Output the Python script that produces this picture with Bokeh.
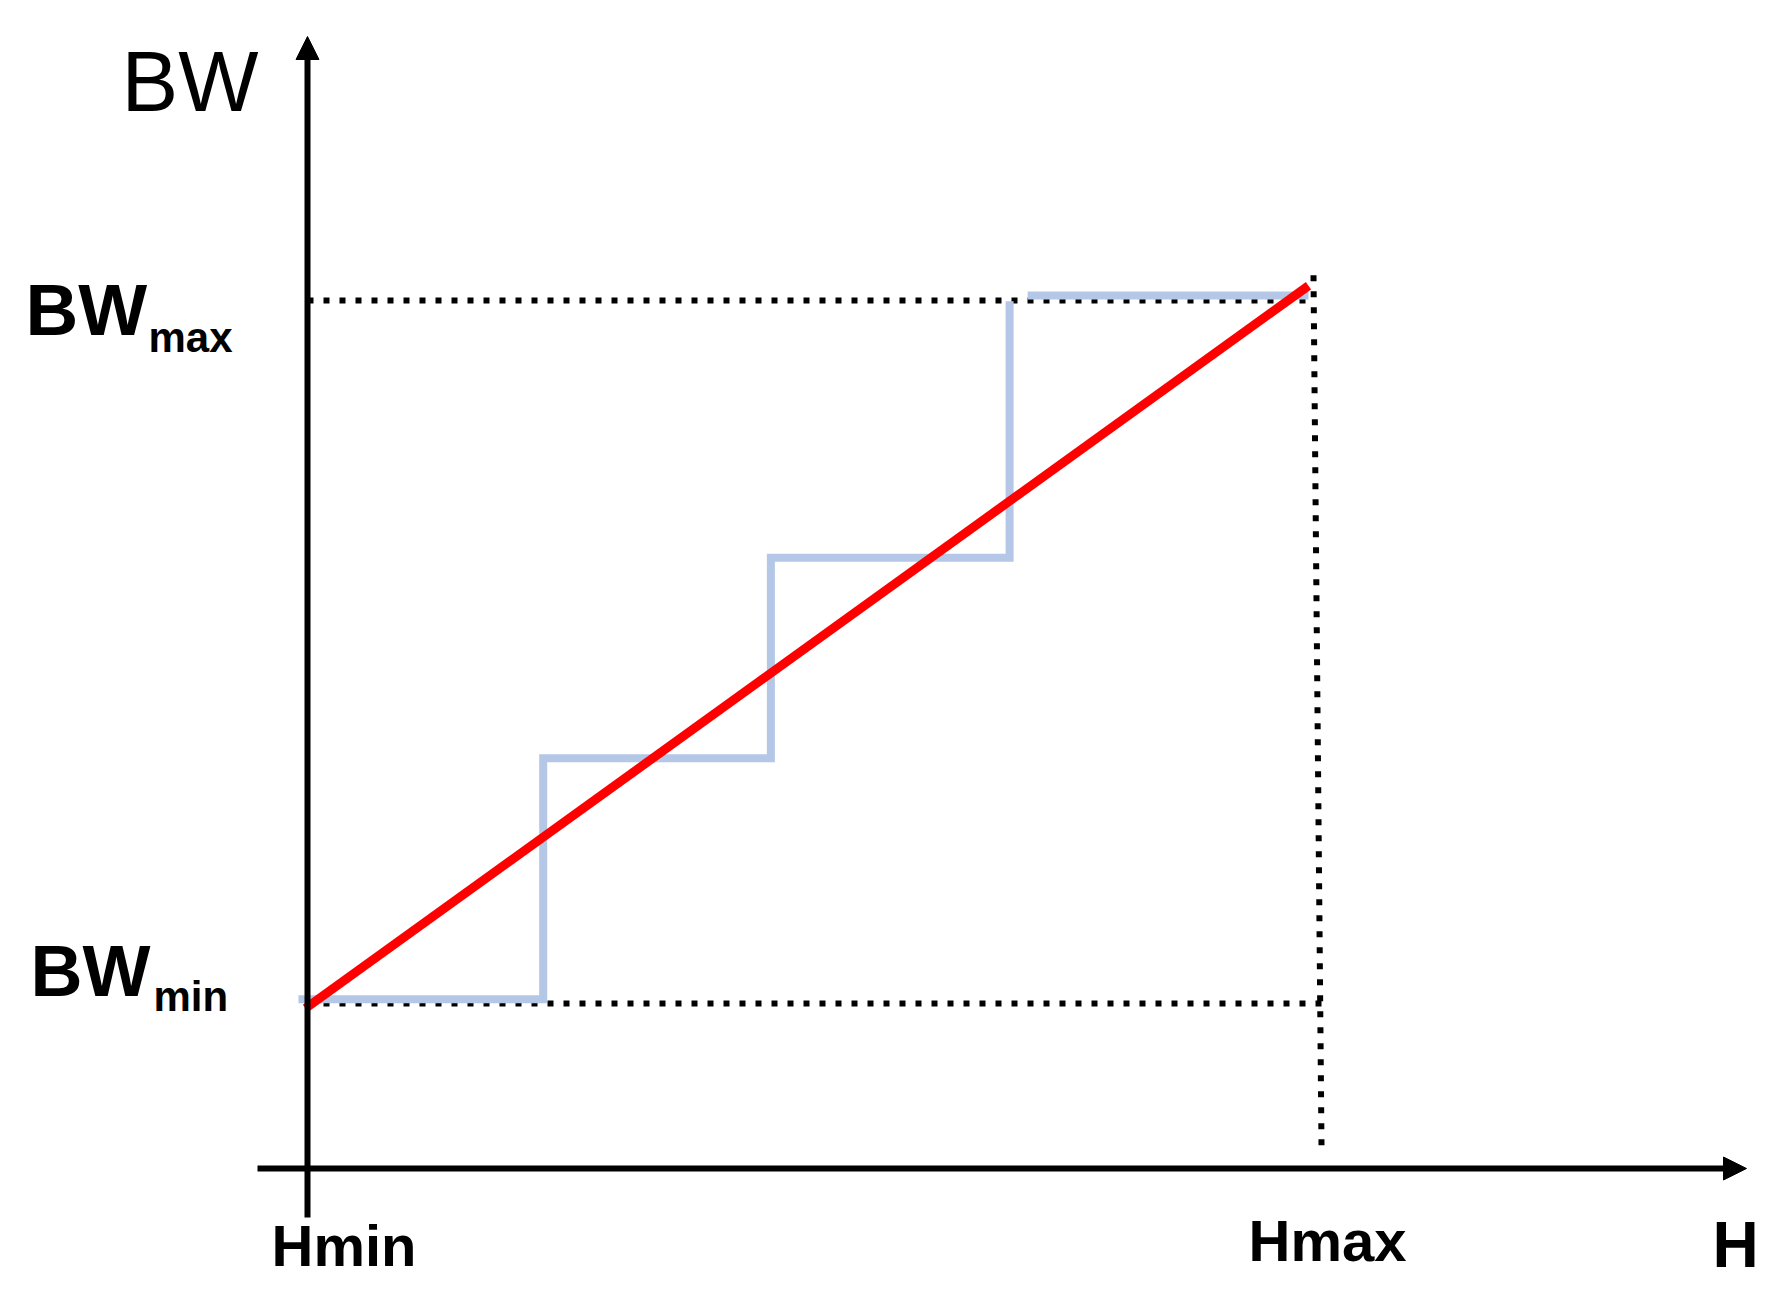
from bokeh.plotting import figure
from bokeh.models import Range1d, Arrow, NormalHead, Label
from bokeh.embed import file_html
from bokeh.resources import INLINE

# ---------------- data (normalised units: Hmin=0, Hmax=1, BWmin=0, BWmax=1) ----
H_MIN, H_MAX = 0.0, 1.0
BW_MIN, BW_MAX = 0.0, 1.0

# quantised bandwidth (light-blue staircase)
step_H = [-0.009, 0.235, 0.235, 0.462, 0.462, 0.700, 0.700]
step_BW = [0.006, 0.006, 0.349, 0.349, 0.634, 0.634, 0.999]
top_step_H = [0.718, 0.998]
top_step_BW = [1.007, 1.007]

# linear bandwidth mapping (red line)
lin_H = [-0.002, 0.998]
lin_BW = [-0.007, 1.021]

# dotted guide lines
guide_max_H = [0.0, 1.003]
guide_max_BW = [1.0, 1.0]
guide_min_H = [0.0, 1.012]
guide_min_BW = [0.0, 0.0]
guide_vert_H = [1.003, 1.011]
guide_vert_BW = [1.036, -0.206]

# texts
y_title = "BW"
x_title = "H"
h_labels = ["Hmin", "Hmax"]
bw_main = ["BW", "BW"]
bw_subs = ["max", "min"]

# ---------------- layout helpers (reference pixel -> data) ----------------
X0, XS = 307.0, 1003.0    # pixel of H=0, pixels per H unit
Y0, YS = 1003.0, 703.0    # pixel of BW=0, pixels per BW unit
PAD = 0


def hx(px):
    return (px - X0) / XS


def by(py):
    return (Y0 - py) / YS


W, HGT = 1770, 1286
p = figure(width=W, height=HGT, output_backend="svg", toolbar_location=None,
           x_range=Range1d(hx(PAD), hx(PAD + W)),
           y_range=Range1d(by(PAD + HGT), by(PAD)),
           x_axis_location=None, y_axis_location=None,
           min_border=0, outline_line_color=None,
           background_fill_color="white", border_fill_color="white")
p.xgrid.visible = False
p.ygrid.visible = False

# dotted guides
dot = dict(line_color="black", line_width=6, line_dash="6 10", line_cap="butt")
p.line(guide_max_H, guide_max_BW, **dot)
p.line(guide_min_H, guide_min_BW, **dot)
p.line(guide_vert_H, guide_vert_BW, **dot)

# staircase
blue = "#B4C7E7"
p.line(step_H, step_BW, line_color=blue, line_width=8, line_join="miter", line_cap="butt")
p.line(top_step_H, top_step_BW, line_color=blue, line_width=8, line_cap="butt")

# red linear mapping
p.line(lin_H, lin_BW, line_color="#FF0000", line_width=9, line_cap="butt")

# axes with arrow heads
head = dict(size=23, fill_color="black", line_color="black", line_width=1)
p.add_layout(Arrow(end=NormalHead(**head), x_start=hx(257), y_start=by(1168),
                   x_end=hx(1746), y_end=by(1168), line_width=6, line_color="black"))
p.add_layout(Arrow(end=NormalHead(**head), x_start=H_MIN, y_start=by(1217),
                   x_end=H_MIN, y_end=by(36), line_width=6, line_color="black"))

FONT = "Liberation Sans"
SHIFT = 0.36  # empirical baseline correction (em)


def lab(text, px, py, size, bold=True):
    p.add_layout(Label(x=hx(px), y=by(py - SHIFT * size), text=text, text_font=FONT,
                       text_font_size=f"{size}px",
                       text_font_style="bold" if bold else "normal",
                       text_color="black", text_align="left",
                       text_baseline="alphabetic"))


lab(y_title, 121, 112, 85, bold=False)
lab(bw_main[0], 25, 335, 73)
lab(bw_subs[0], 148, 352, 42)
lab(bw_main[1], 30, 996, 72)
lab(bw_subs[1], 153, 1011, 42)
lab(h_labels[0], 271, 1266, 58)
lab(h_labels[1], 1248, 1261, 58)
lab(x_title, 1712, 1268, 64)

open("out.html", "w").write(file_html(p, INLINE))
